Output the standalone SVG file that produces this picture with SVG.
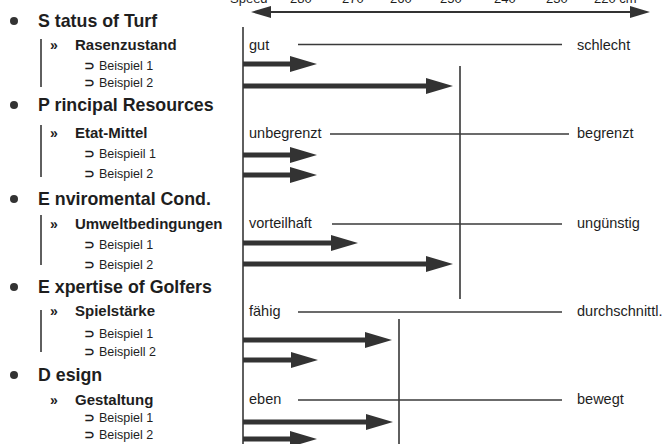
<svg xmlns="http://www.w3.org/2000/svg" width="667" height="444" viewBox="0 0 667 444">
<style>
text{font-family:"Liberation Sans",Arial,sans-serif;fill:#1e1e1e}
.h{font-size:17.8px;font-weight:bold}
.s{font-size:15px;font-weight:bold}
.q{font-size:14px;font-weight:bold}
.b{font-size:12.5px}
.sym{font-family:"DejaVu Sans",sans-serif;font-size:13px;font-weight:bold}
.r{font-size:14.5px}
.sc{font-size:13px}
.thin{stroke:#3a3a3a;stroke-width:1.3;fill:none}
.bar{stroke:#2a2a2a;stroke-width:1.5}
.thick{stroke:#333;stroke-width:5;fill:none;marker-end:url(#ah)}
.dot{fill:#333}
</style>
<defs>
<marker id="ah" markerUnits="userSpaceOnUse" viewBox="0 0 27 16" refX="1" refY="8" markerWidth="27" markerHeight="16" orient="auto"><path d="M0,0 L27,8 L0,16 z" fill="#333"/></marker>
<marker id="th" markerUnits="userSpaceOnUse" viewBox="0 0 20 12" refX="1" refY="6" markerWidth="20" markerHeight="12" orient="auto-start-reverse"><path d="M0,0 L20,6 L0,12 z" fill="#333"/></marker>
</defs>

<g id="scale">
<text class="sc" x="230" y="3">Speed</text>
<text class="sc" x="290" y="3">280</text>
<text class="sc" x="342" y="3">270</text>
<text class="sc" x="390" y="3">260</text>
<text class="sc" x="440" y="3">250</text>
<text class="sc" x="494" y="3">240</text>
<text class="sc" x="546" y="3">230</text>
<text class="sc" x="594" y="3">220 cm</text>
<line x1="270" y1="12" x2="631" y2="12" stroke="#333" stroke-width="1.8" marker-start="url(#th)" marker-end="url(#th)"/>
</g>

<g id="axes">
<line class="bar" x1="243" y1="27" x2="243" y2="444"/>
<line class="bar" x1="460" y1="66" x2="460" y2="299"/>
<line class="bar" x1="399" y1="319" x2="399" y2="444"/>
</g>

<g id="status">
<circle class="dot" cx="14" cy="21" r="4"/>
<text class="h" x="38" y="27">S tatus of Turf</text>
<line class="bar" x1="41" y1="39" x2="41" y2="87"/>
<text class="q" x="50" y="50">»</text>
<text class="s" x="75" y="50">Rasenzustand</text>
<text class="sym" x="84" y="70">⊃</text>
<text class="b" x="99" y="70">Beispiel 1</text>
<text class="sym" x="84" y="87">⊃</text>
<text class="b" x="99" y="87">Beispiel 2</text>
<text class="r" x="249" y="50">gut</text>
<text class="r" x="577" y="50">schlecht</text>
</g>

<g id="resources">
<circle class="dot" cx="14" cy="105" r="4"/>
<text class="h" x="38" y="111">P rincipal Resources</text>
<line class="bar" x1="41" y1="125" x2="41" y2="177"/>
<text class="q" x="50" y="138">»</text>
<text class="s" x="75" y="138">Etat-Mittel</text>
<text class="sym" x="84" y="158">⊃</text>
<text class="b" x="99" y="158">Beispieil 1</text>
<text class="sym" x="84" y="178">⊃</text>
<text class="b" x="99" y="178">Beispiel 2</text>
<text class="r" x="249" y="138">unbegrenzt</text>
<text class="r" x="577" y="138">begrenzt</text>
</g>

<g id="environment">
<circle class="dot" cx="14" cy="199" r="4"/>
<text class="h" x="38" y="205">E nviromental Cond.</text>
<line class="bar" x1="41" y1="215" x2="41" y2="265"/>
<text class="q" x="50" y="229">»</text>
<text class="s" x="75" y="229">Umweltbedingungen</text>
<text class="sym" x="84" y="249">⊃</text>
<text class="b" x="99" y="249">Beispiel 1</text>
<text class="sym" x="84" y="269">⊃</text>
<text class="b" x="99" y="269">Beispiel 2</text>
<text class="r" x="249" y="228">vorteilhaft</text>
<text class="r" x="577" y="228">ungünstig</text>
</g>

<g id="expertise">
<circle class="dot" cx="14" cy="287" r="4"/>
<text class="h" x="38" y="293">E xpertise of Golfers</text>
<line class="bar" x1="41" y1="310" x2="41" y2="352"/>
<text class="q" x="50" y="316">»</text>
<text class="s" x="75" y="316">Spielstärke</text>
<text class="sym" x="84" y="338">⊃</text>
<text class="b" x="99" y="338">Beispiel 1</text>
<text class="sym" x="84" y="356">⊃</text>
<text class="b" x="99" y="356">Beispiell 2</text>
<text class="r" x="249" y="316">fähig</text>
<text class="r" x="577" y="316">durchschnittl.</text>
</g>

<g id="design">
<circle class="dot" cx="14" cy="375" r="4"/>
<text class="h" x="38" y="381">D esign</text>
<text class="q" x="50" y="405">»</text>
<text class="s" x="75" y="405">Gestaltung</text>
<text class="sym" x="84" y="422">⊃</text>
<text class="b" x="99" y="422">Beispiel 1</text>
<text class="sym" x="84" y="439">⊃</text>
<text class="b" x="99" y="439">Beispiel 2</text>
<text class="r" x="249" y="404">eben</text>
<text class="r" x="577" y="404">bewegt</text>
</g>

<g id="connectors">
<line class="thin" x1="298" y1="44.5" x2="562" y2="44.5"/>
<line class="thin" x1="330" y1="134" x2="569" y2="134"/>
<line class="thin" x1="332" y1="224" x2="562" y2="224"/>
<line class="thin" x1="298" y1="312" x2="562" y2="312"/>
<line class="thin" x1="298" y1="400" x2="562" y2="400"/>
<line class="thick" x1="243" y1="64" x2="291" y2="64"/>
<line class="thick" x1="243" y1="86" x2="427" y2="86"/>
<line class="thick" x1="243" y1="155" x2="291" y2="155"/>
<line class="thick" x1="243" y1="175" x2="291" y2="175"/>
<line class="thick" x1="243" y1="243" x2="332" y2="243"/>
<line class="thick" x1="243" y1="264" x2="427" y2="264"/>
<line class="thick" x1="243" y1="340" x2="366" y2="340"/>
<line class="thick" x1="243" y1="360" x2="292" y2="360"/>
<line class="thick" x1="243" y1="422" x2="367" y2="422"/>
<line class="thick" x1="243" y1="439" x2="291" y2="439"/>
</g>
</svg>
